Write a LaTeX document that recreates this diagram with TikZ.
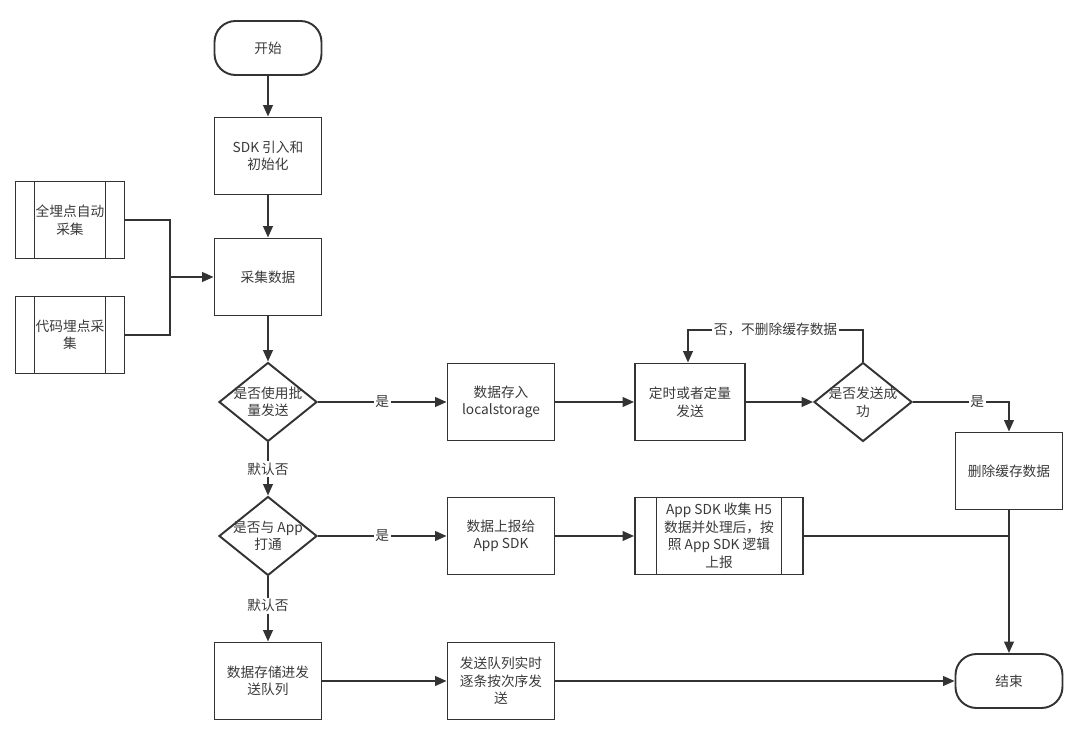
\documentclass[tikz,border=0pt]{standalone}
\usepackage{fontspec}
\setmainfont{Noto Sans CJK SC}
\usetikzlibrary{arrows.meta, shapes.geometric, positioning}
\definecolor{fcLine}{HTML}{333333}
\definecolor{fcText}{HTML}{3A3A3A}
\tikzset{
  base/.style       = {draw=fcLine, line width=1.1pt, text=fcText, align=center,
                       font=\fontsize{7.8}{10}\selectfont, inner sep=1pt},
  box/.style        = {base, rectangle, minimum width=2.14cm, minimum height=1.54cm},
  terminal/.style   = {base, rectangle, rounded corners=0.42cm,
                       minimum width=2.14cm, minimum height=1.08cm},
  subproc/.style    = {box, path picture={
                        \draw[fcLine, line width=1.1pt]
                          ([xshift=#1]path picture bounding box.north west) --
                          ([xshift=#1]path picture bounding box.south west)
                          ([xshift=-#1]path picture bounding box.north east) --
                          ([xshift=-#1]path picture bounding box.south east);}},
  decision/.style   = {draw=fcLine, line width=1.1pt, diamond, inner sep=0pt,
                       minimum width=1.96cm, minimum height=1.58cm},
  dlbl/.style       = {text=fcText, align=center, font=\fontsize{7.8}{10}\selectfont},
  flow/.style       = {-{Triangle[length=6.5pt, width=5.5pt]}, fcLine, line width=1.1pt},
  wire/.style       = {fcLine, line width=1.1pt},
  edgelbl/.style    = {fill=white, text=fcText, inner sep=1pt,
                       font=\fontsize{7.8}{10}\selectfont},
}

\begin{document}
\begin{tikzpicture}[x=0.02cm, y=-0.02cm]
  \useasboundingbox (0,0) rectangle (1080,732);

  % main column
  \node[terminal] (start)   at (268,48)  {开始};
  \node[box]      (init)    at (268,156) {SDK 引入和\\初始化};
  \node[box]      (collect) at (268,277) {采集数据};
  \node[decision, label={[dlbl]center:是否使用批\\量发送}] (batch) at (268,402) {};
  \node[decision, label={[dlbl]center:是否与 App\\打通}]  (app)   at (268,536) {};
  \node[box]      (queue)   at (268,681) {数据存储进发\\送队列};

  % collection sources
  \node[subproc=0.38cm, minimum width=2.18cm] (auto)   at (70,220) {全埋点自动\\采集};
  \node[subproc=0.38cm, minimum width=2.18cm] (manual) at (70,335) {代码埋点采\\集};
  \coordinate (join) at (170,277);

  % batch branch
  \node[box]      (store)   at (501,402) {数据存入\\localstorage};
  \node[box, minimum width=2.2cm] (timer) at (690,402) {定时或者定量\\发送};
  \node[decision, label={[dlbl]center:是否发送成\\功}] (sent) at (863,402) {};
  \node[box]      (del)     at (1009,471) {删除缓存数据};

  % app branch
  \node[box]      (report)  at (501,536) {数据上报给\\App SDK};
  \node[subproc=0.43cm, minimum width=3.36cm] (appsdk) at (719,536)
    {App SDK 收集 H5\\数据并处理后，按\\照 App SDK 逻辑\\上报};

  % queue branch
  \node[box]      (realtime) at (501,681) {发送队列实时\\逐条按次序发\\送};
  \node[terminal] (finish)   at (1009,681) {结束};

  \draw[flow] (start) -- (init);
  \draw[flow] (init) -- (collect);
  \draw[wire] (auto.east) -| (join);
  \draw[wire] (manual.east) -| (join);
  \draw[flow] (join) -- (collect.west);
  \draw[flow] (collect) -- (batch);

  \draw[flow] (batch.east) -- node[edgelbl]{是} (store.west);
  \draw[flow] (store.east) -- (timer.west);
  \draw[flow] (timer.east) -- (sent.west);
  \draw[flow] (sent.north) -- ++(0,-32) -| node[edgelbl, pos=0.25]{否，不删除缓存数据}
    ([xshift=-0.04cm]timer.north);
  \draw[flow] (sent.east) -- node[edgelbl, pos=0.67]{是} (sent.east -| del.north) -- (del.north);

  \draw[flow] (batch) -- node[edgelbl]{默认否} (app);
  \draw[flow] (app.east) -- node[edgelbl]{是} (report.west);
  \draw[flow] (report.east) -- (appsdk.west);
  \draw[wire] (appsdk.east) -- (appsdk.east -| del.south);
  \draw[flow] (del.south) -- (finish.north);

  \draw[flow] (app) -- node[edgelbl, pos=0.45]{默认否} (queue);
  \draw[flow] (queue.east) -- (realtime.west);
  \draw[flow] (realtime.east) -- (finish.west);
\end{tikzpicture}
\end{document}
